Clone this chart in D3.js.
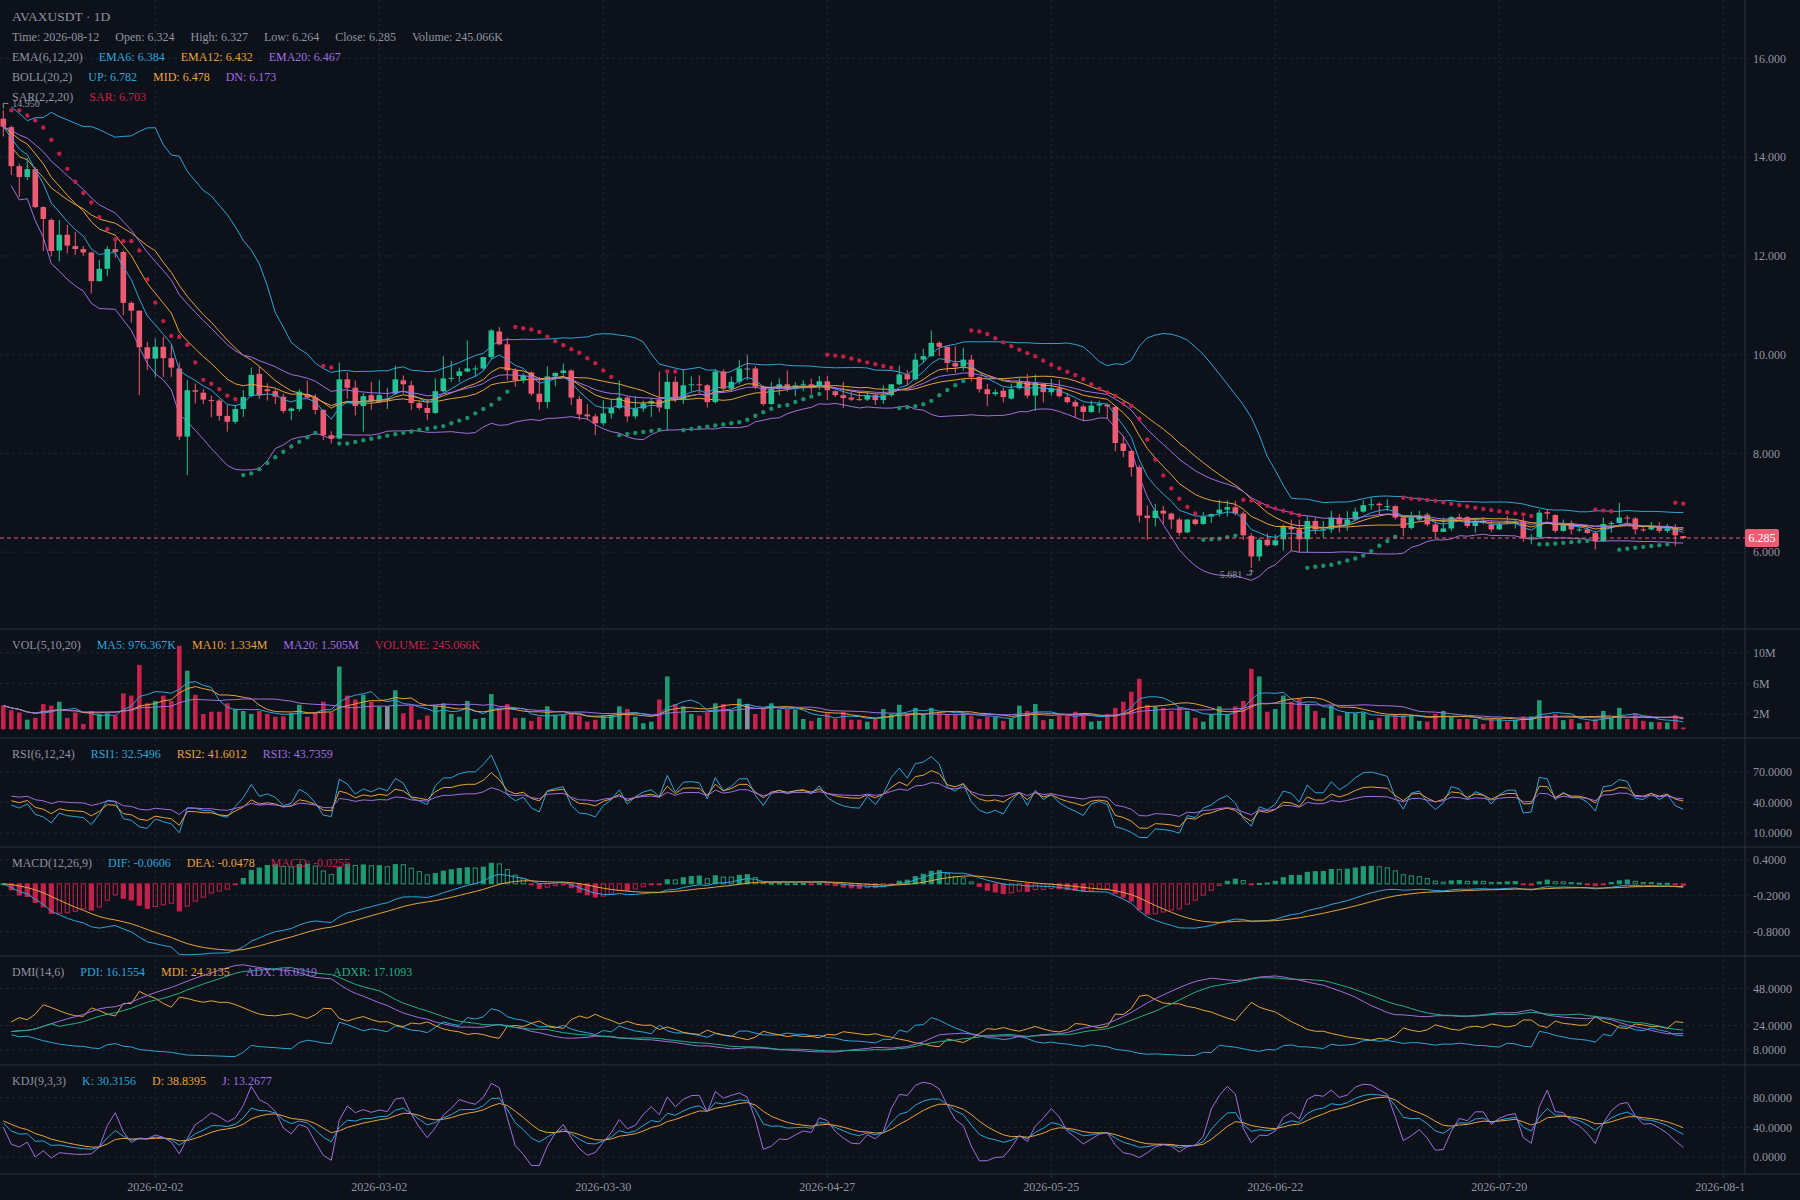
<!DOCTYPE html>
<html>
<head>
<meta charset="utf-8">
<script src="https://cdn.jsdelivr.net/npm/d3@7"></script>
<style>
html, body { margin: 0; padding: 0; background: #0d111a; }
svg { display: block; font-family: "Liberation Serif", serif; }
</style>
</head>
<body>
<script>
// daily candles, AVAXUSDT, first bar 2026-01-14
const firstDay = "2026-01-14";

const opens = [
14.78,14.61,13.82,13.60,13.76,12.99,12.73,12.11,12.43,12.20,
12.14,12.07,11.49,11.74,12.14,12.08,11.05,10.89,10.15,9.92,
10.16,9.93,9.72,8.34,9.28,9.23,9.08,9.07,8.76,8.64,
8.90,9.16,9.61,9.30,9.26,9.15,8.86,8.90,9.20,9.13,
8.88,8.37,8.30,9.50,9.33,8.96,9.18,9.04,9.11,9.21,
9.48,9.38,9.02,8.92,8.82,9.26,9.52,9.57,9.66,9.71,
9.72,9.95,10.47,10.21,9.68,9.48,9.64,9.21,9.04,9.56,
9.63,9.68,9.10,8.79,8.75,8.61,8.81,8.92,9.13,8.75,
8.91,9.01,9.09,8.90,9.45,9.08,9.38,9.40,9.38,9.04,
9.66,9.31,9.45,9.72,9.72,9.35,9.00,9.31,9.40,9.31,
9.38,9.40,9.36,9.46,9.26,9.18,9.13,9.10,9.09,9.18,
9.08,9.18,9.40,9.60,9.50,9.90,9.97,10.24,10.16,9.83,
9.76,9.90,9.55,9.30,9.20,9.27,9.11,9.32,9.46,9.17,
9.41,9.24,9.32,9.14,9.04,8.95,8.84,8.97,8.99,8.94,
8.20,8.05,7.72,6.74,6.69,6.84,6.78,6.66,6.40,6.66,
6.57,6.72,6.79,6.86,6.91,6.78,6.33,5.91,6.25,6.14,
6.26,6.51,6.46,6.26,6.63,6.44,6.46,6.70,6.56,6.66,
6.82,6.96,6.98,6.92,6.93,6.70,6.49,6.66,6.76,6.56,
6.41,6.48,6.71,6.71,6.53,6.63,6.56,6.46,6.63,6.60,
6.63,6.28,6.30,6.81,6.75,6.43,6.59,6.44,6.46,6.39,
6.22,6.57,6.59,6.70,6.68,6.46,6.46,6.49,6.43,6.49,
6.324];
const highs = [
14.95,14.64,13.87,13.98,13.80,13.01,12.76,12.73,12.63,12.49,
12.20,12.09,11.92,12.20,12.30,12.11,11.08,10.90,10.26,10.33,
10.36,10.20,9.84,9.49,9.41,9.30,9.17,9.10,8.98,8.98,
9.28,9.74,9.77,9.42,9.31,9.21,8.93,9.30,9.47,9.20,
8.90,8.45,9.84,9.64,9.48,9.22,9.45,9.48,9.33,9.78,
9.58,9.47,9.06,9.11,9.52,9.97,9.87,9.74,10.29,9.78,
9.96,10.52,10.56,10.34,9.73,9.62,9.66,9.55,9.76,9.64,
9.82,9.70,9.16,9.00,8.80,9.08,9.10,9.48,9.16,9.16,
9.07,9.12,9.66,9.63,9.56,9.70,9.56,9.58,9.41,9.70,
9.70,9.56,9.89,10.00,9.77,9.38,9.45,9.52,9.68,9.44,
9.48,9.51,9.57,9.57,9.28,9.45,9.25,9.27,9.25,9.21,
9.38,9.41,9.78,9.69,10.03,10.12,10.49,10.27,10.17,10.17,
10.14,10.00,9.56,9.41,9.30,9.33,9.41,9.53,9.61,9.60,
9.43,9.51,9.49,9.22,9.09,8.99,9.07,9.07,9.01,8.96,
8.36,8.07,7.77,6.94,6.98,6.93,6.80,6.70,6.67,6.68,
6.81,6.78,7.06,7.05,7.04,6.83,6.38,6.29,6.38,6.36,
6.56,6.66,6.66,6.73,6.70,6.63,6.84,6.77,6.83,6.90,
7.05,7.10,7.01,7.07,6.95,6.75,6.82,6.84,6.80,6.63,
6.70,6.73,6.78,6.73,6.70,6.71,6.64,6.61,6.73,6.66,
6.71,6.36,6.86,6.86,6.77,6.66,6.64,6.53,6.51,6.42,
6.70,6.63,7.00,6.75,6.71,6.51,6.61,6.61,6.57,6.57,
6.327];
const lows = [
14.42,13.64,13.20,13.54,12.97,12.10,11.99,11.89,12.05,12.02,
12.00,11.24,11.48,11.59,11.96,10.80,10.65,9.18,9.69,9.54,
9.55,9.55,8.27,7.56,9.01,9.00,8.73,8.66,8.44,8.60,
8.74,9.14,9.10,9.07,9.00,8.81,8.68,8.85,9.10,8.79,
8.27,8.20,8.28,9.11,8.77,8.44,8.88,9.02,8.90,9.18,
9.21,8.88,8.88,8.67,8.80,9.24,9.45,9.45,9.64,9.55,
9.69,9.90,10.19,9.48,9.35,9.42,9.16,8.88,8.91,9.36,
9.55,8.98,8.67,8.67,8.37,8.56,8.70,8.89,8.64,8.70,
8.84,8.74,8.84,8.47,9.04,9.00,9.25,9.22,8.93,9.01,
9.25,9.25,9.40,9.48,9.30,8.96,8.98,9.18,9.25,9.16,
9.26,9.21,9.29,9.08,9.14,8.92,9.06,9.06,9.06,8.98,
9.00,9.15,9.38,9.38,9.48,9.83,9.96,9.97,9.65,9.63,
9.68,9.46,9.23,8.96,9.16,9.03,9.09,9.29,9.11,8.86,
9.03,9.17,9.13,9.01,8.72,8.66,8.82,8.82,8.70,8.04,
7.92,7.53,6.60,6.25,6.52,6.57,6.47,6.33,6.38,6.54,
6.55,6.59,6.72,6.72,6.74,6.25,5.681,5.82,6.11,6.12,
6.03,6.02,5.99,5.99,6.36,6.29,6.39,6.40,6.43,6.63,
6.80,6.86,6.76,6.83,6.66,6.32,6.46,6.63,6.52,6.28,
6.41,6.43,6.63,6.49,6.39,6.56,6.41,6.45,6.56,6.48,
6.21,6.16,6.28,6.66,6.39,6.41,6.36,6.41,6.37,6.05,
6.21,6.39,6.58,6.56,6.36,6.41,6.44,6.39,6.39,6.12,
6.264];
const closes = [
14.62,13.82,13.60,13.76,12.99,12.75,12.10,12.43,12.21,12.14,
12.07,11.49,11.74,12.14,12.08,11.05,10.89,10.15,9.92,10.16,
9.93,9.74,8.34,9.28,9.25,9.09,9.07,8.76,8.64,8.90,
9.14,9.59,9.18,9.26,9.15,8.86,8.91,9.25,9.13,8.88,
8.37,8.30,9.50,9.33,8.96,9.16,9.06,9.18,9.11,9.50,
9.40,9.02,8.92,8.82,9.26,9.52,9.53,9.66,9.72,9.72,
9.95,10.49,10.21,9.68,9.48,9.57,9.21,9.04,9.56,9.63,
9.68,9.13,8.79,8.75,8.61,8.81,8.92,9.13,8.75,8.91,
9.01,9.06,8.93,9.45,9.08,9.38,9.40,9.38,9.04,9.66,
9.31,9.45,9.72,9.72,9.35,9.00,9.31,9.40,9.31,9.38,
9.40,9.33,9.46,9.28,9.18,9.12,9.09,9.08,9.18,9.08,
9.18,9.40,9.60,9.50,9.90,9.97,10.24,10.16,9.83,9.76,
9.90,9.55,9.30,9.20,9.24,9.14,9.30,9.44,9.17,9.43,
9.24,9.32,9.16,9.04,8.95,8.84,8.97,9.00,8.95,8.21,
8.05,7.72,6.74,6.69,6.84,6.78,6.66,6.39,6.66,6.57,
6.72,6.77,6.86,6.91,6.78,6.34,5.91,6.25,6.14,6.24,
6.51,6.46,6.26,6.63,6.46,6.46,6.70,6.56,6.66,6.82,
6.95,6.97,6.95,6.93,6.70,6.49,6.70,6.73,6.56,6.41,
6.48,6.71,6.68,6.53,6.63,6.59,6.46,6.56,6.61,6.61,
6.29,6.30,6.80,6.78,6.43,6.56,6.46,6.46,6.39,6.22,
6.57,6.59,6.70,6.68,6.46,6.44,6.51,6.43,6.48,6.34,
6.285];
// volume in millions
const volumesM = [
3.1,2.5,2.2,1.26,1.5,3.3,3.1,3.6,1.5,2.2,
0.7,2.4,2.0,2.1,1.8,4.7,4.4,8.4,3.4,3.7,
4.4,3.7,10.9,7.65,4.5,2.0,2.3,2.3,3.4,2.7,
2.4,2.0,2.4,2.0,1.65,1.7,2.1,3.2,1.65,2.2,
3.6,2.2,8.2,4.4,3.9,4.5,3.6,3.0,3.0,5.1,
2.1,3.1,1.26,1.8,3.1,3.4,2.0,1.65,3.7,1.35,
1.5,4.6,2.7,3.3,1.5,1.5,1.1,1.65,3.0,1.9,
1.9,2.0,1.8,1.0,1.26,1.8,1.9,3.0,2.65,1.65,
0.8,1.0,3.9,6.9,3.3,3.0,2.0,1.8,2.2,3.4,
3.3,2.4,4.0,3.3,2.0,2.65,3.4,2.6,2.6,2.6,
1.35,1.1,1.5,2.1,1.4,2.3,1.26,1.26,1.0,1.35,
2.65,2.0,3.2,2.1,2.8,2.0,2.8,2.1,2.0,1.9,
2.1,1.8,1.35,1.65,1.6,1.1,1.4,3.1,2.4,3.3,
1.2,1.35,1.8,1.8,2.3,2.1,1.0,1.1,2.0,2.8,
3.6,4.9,6.6,3.2,3.0,2.8,2.4,2.9,2.4,1.5,
1.0,2.0,3.0,2.0,3.0,3.7,7.9,6.9,2.3,2.65,
4.4,3.6,4.0,3.3,2.4,1.5,3.1,1.8,2.2,2.1,
2.2,1.2,1.5,1.8,1.9,1.9,1.9,1.1,1.0,2.0,
2.4,1.6,1.35,1.35,1.35,0.7,1.35,1.35,1.0,1.2,
1.7,1.7,3.8,1.8,2.0,1.2,1.35,0.8,1.0,1.35,
2.4,1.5,2.8,1.35,2.1,1.1,0.95,0.95,0.9,1.85,
0.245066];

const dateTicks = ["2026-02-02","2026-03-02","2026-03-30","2026-04-27","2026-05-25","2026-06-22","2026-07-20","2026-08-17"];
const priceTicks = [16, 14, 12, 10, 8, 6];
const volTicks = [10, 6, 2];
const rsiTicks = [70, 40, 10];
const macdTicks = [0.4, -0.2, -0.8];
const dmiTicks = [48, 24, 8];
const kdjTicks = [80, 40, 0];

const grey = "#8e95a1", cyan = "#2ba6dc", orange = "#e9a23b", purple = "#a06fe2",
      crimson = "#c7234a", teal = "#22b087";
const upCol = "#25c295", downCol = "#ef5b73", dojiCol = "#8a909c";
const volUp = "#209a72", volDown = "#c3224a";

// legend texts as shown on the chart
const titleText = "AVAXUSDT · 1D";
const infoRow = [["Time: 2026-08-12", grey], ["Open: 6.324", grey], ["High: 6.327", grey], ["Low: 6.264", grey], ["Close: 6.285", grey], ["Volume: 245.066K", grey]];
const emaRow = [["EMA(6,12,20)", grey], ["EMA6: 6.384", cyan], ["EMA12: 6.432", orange], ["EMA20: 6.467", purple]];
const bollRow = [["BOLL(20,2)", grey], ["UP: 6.782", cyan], ["MID: 6.478", orange], ["DN: 6.173", purple]];
const sarRow = [["SAR(2,2,20)", grey], ["SAR: 6.703", crimson]];
const volRow = [["VOL(5,10,20)", grey], ["MA5: 976.367K", cyan], ["MA10: 1.334M", orange], ["MA20: 1.505M", purple], ["VOLUME: 245.066K", crimson]];
const rsiRow = [["RSI(6,12,24)", grey], ["RSI1: 32.5496", cyan], ["RSI2: 41.6012", orange], ["RSI3: 43.7359", purple]];
const macdRow = [["MACD(12,26,9)", grey], ["DIF: -0.0606", cyan], ["DEA: -0.0478", orange], ["MACD: -0.0255", crimson]];
const dmiRow = [["DMI(14,6)", grey], ["PDI: 16.1554", cyan], ["MDI: 24.3135", orange], ["ADX: 16.0319", purple], ["ADXR: 17.1093", teal]];
const kdjRow = [["KDJ(9,3,3)", grey], ["K: 30.3156", cyan], ["D: 38.8395", orange], ["J: 13.2677", purple]];

const W = 1800, H = 1200, axisX = 1745;
const paneTops = [0, 629, 738, 847, 956, 1065, 1174];

const parse = d3.utcParse("%Y-%m-%d");
const day0 = parse(firstDay);
const dates = closes.map((c, i) => d3.utcDay.offset(day0, i));
const N = closes.length;
const idx = d3.range(N);

// ---------- indicators ----------
function ema(arr, n) { let p; return arr.map((v, i) => (p = i === 0 ? v : (2 * v + (n - 1) * p) / (n + 1))); }
function ma(arr, n) { return arr.map((v, i) => d3.mean(arr.slice(Math.max(0, i - n + 1), i + 1))); }

const ema6 = ema(closes, 6), ema12 = ema(closes, 12), ema20 = ema(closes, 20);
const bollMid = [], bollUp = [], bollDn = [];
closes.forEach((c, i) => {
	const w = closes.slice(Math.max(0, i - 19), i + 1);
	const m = d3.mean(w);
	const sd = Math.sqrt(d3.mean(w, v => (v - m) * (v - m)));
	bollMid.push(m); bollUp.push(m + 2 * sd); bollDn.push(m - 2 * sd);
});

// parabolic SAR (2,2,20)
const sar = [null];
(function () {
	let up = false, af = 0.02, ep = lows[0], s = highs[0];
	for (let i = 1; i < N; i++) {
		s = s + af * (ep - s);
		if (up) {
			s = Math.min(s, lows[i - 1], lows[Math.max(0, i - 2)]);
			if (lows[i] < s) { up = false; s = ep; ep = lows[i]; af = 0.02; }
			else if (highs[i] > ep) { ep = highs[i]; af = Math.min(af + 0.02, 0.2); }
		} else {
			s = Math.max(s, highs[i - 1], highs[Math.max(0, i - 2)]);
			if (highs[i] > s) { up = true; s = ep; ep = highs[i]; af = 0.02; }
			else if (lows[i] < ep) { ep = lows[i]; af = Math.min(af + 0.02, 0.2); }
		}
		sar.push({ v: s, up: up });
	}
})();

const volMa5 = ma(volumesM, 5), volMa10 = ma(volumesM, 10), volMa20 = ma(volumesM, 20);

// wilder-style RSI, averages start neutral
const absChg = closes.slice(1).map((c, i) => Math.abs(c - closes[i]));
function rsi(n) {
	let a = d3.mean(absChg.slice(0, n)), u = a / 2;
	return closes.map((c, i) => {
		if (i === 0) return null;
		const d = c - closes[i - 1];
		u = (Math.max(d, 0) + (n - 1) * u) / n;
		a = (Math.abs(d) + (n - 1) * a) / n;
		return a === 0 ? 50 : u / a * 100;
	});
}
const rsi1 = rsi(6), rsi2 = rsi(12), rsi3 = rsi(24);

const e12 = ema(closes, 12), e26 = ema(closes, 26);
const dif = e12.map((v, i) => v - e26[i]);
const dea = ema(dif, 9);
const macdBar = dif.map((v, i) => (v - dea[i]) * 2);

// DMI(14,6), wilder smoothing, sums start neutral
const trA = [null], dpA = [null], dmA = [null];
for (let i = 1; i < N; i++) {
	const pc = closes[i - 1];
	trA.push(Math.max(highs[i] - lows[i], Math.abs(highs[i] - pc), Math.abs(lows[i] - pc)));
	const hd = highs[i] - highs[i - 1], ld = lows[i - 1] - lows[i];
	dpA.push(hd > 0 && hd > ld ? hd : 0);
	dmA.push(ld > 0 && ld > hd ? ld : 0);
}
const pdi = [null], mdi = [null], adx = [null], adxr = [null];
(function () {
	let mtr = d3.mean(trA.slice(1, 15)), mdp = mtr * 0.2, mdm = mtr * 0.2, ax = 20;
	for (let i = 1; i < N; i++) {
		mtr += (trA[i] - mtr) / 14; mdp += (dpA[i] - mdp) / 14; mdm += (dmA[i] - mdm) / 14;
		const p = mdp * 100 / mtr, m = mdm * 100 / mtr;
		const dx = p + m === 0 ? 0 : Math.abs(m - p) / (m + p) * 100;
		ax += (dx - ax) / 14;
		pdi.push(p); mdi.push(m); adx.push(ax);
		adxr.push(i > 6 ? (ax + adx[i - 6]) / 2 : ax);
	}
})();

const kA = [], dA = [], jA = [];
(function () {
	let k = 50, d = 50;
	idx.forEach(i => {
		const s = Math.max(0, i - 8);
		const lo = d3.min(lows.slice(s, i + 1)), hi = d3.max(highs.slice(s, i + 1));
		const rsv = hi === lo ? 0 : (closes[i] - lo) / (hi - lo) * 100;
		k = (2 * k + rsv) / 3; d = (2 * d + k) / 3;
		kA.push(k); dA.push(d); jA.push(3 * k - 2 * d);
	});
})();

// ---------- scales ----------
const x = d3.scaleUtc().domain([day0, parse("2026-08-17")]).range([3.3, 1723.3]);
const yPrice = d3.scaleLinear().domain([4.442, 17.186]).range([paneTops[1], paneTops[0]]);
const yVol = d3.scaleLinear().domain([-1.13, 13.09]).range([paneTops[2], paneTops[1]]);
const yRsi = d3.scaleLinear().domain([-3.67, 103.1]).range([paneTops[3], paneTops[2]]);
const yMacd = d3.scaleLinear().domain([-1.208, 0.616]).range([paneTops[4], paneTops[3]]);
const yDmi = d3.scaleLinear().domain([-1.84, 69.2]).range([paneTops[5], paneTops[4]]);
const yKdj = d3.scaleLinear().domain([-22.7, 124]).range([paneTops[6], paneTops[5]]);

const svg = d3.select("body").append("svg").attr("width", W).attr("height", H);
svg.append("rect").attr("width", W).attr("height", H).attr("fill", "#0d111a");

const defs = svg.append("defs");
paneTops.slice(0, 6).forEach((t, k) => {
	defs.append("clipPath").attr("id", "clip" + k).append("rect")
		.attr("x", 0).attr("y", t).attr("width", axisX).attr("height", paneTops[k + 1] - t);
});
defs.append("clipPath").attr("id", "clipAxis").append("rect").attr("x", 0).attr("y", 1174).attr("width", axisX).attr("height", 26);

// grid
const grid = svg.append("g").attr("stroke", "#1e2633").attr("stroke-dasharray", "3,3").attr("stroke-width", 1);
grid.selectAll("line.v").data(dateTicks).join("line")
	.attr("x1", d => x(parse(d))).attr("x2", d => x(parse(d)))
	.attr("y1", 0).attr("y2", 1174);

function hGrid(scale, ticks, fmt) {
	grid.selectAll(null).data(ticks).join("line")
		.attr("x1", 0).attr("x2", axisX + 4)
		.attr("y1", d => scale(d)).attr("y2", d => scale(d));
	svg.append("g").selectAll("text").data(ticks).join("text")
		.attr("x", 1753).attr("y", d => scale(d)).attr("dy", "0.35em")
		.attr("fill", grey).attr("font-size", 12).text(fmt);
}
hGrid(yPrice, priceTicks, d => d.toFixed(3));
hGrid(yVol, volTicks, d => d + "M");
hGrid(yRsi, rsiTicks, d => d.toFixed(4));
hGrid(yMacd, macdTicks, d => d.toFixed(4));
hGrid(yDmi, dmiTicks, d => d.toFixed(4));
hGrid(yKdj, kdjTicks, d => d.toFixed(4));

// pane separators and axis line
svg.append("g").attr("stroke", "#283040").attr("stroke-width", 1)
	.selectAll("line").data(paneTops.slice(1)).join("line")
	.attr("x1", 0).attr("x2", W).attr("y1", d => d).attr("y2", d => d);
svg.append("line").attr("x1", axisX).attr("x2", axisX).attr("y1", 0).attr("y2", 1174)
	.attr("stroke", "#283040");

// x axis labels
const xa = svg.append("g").attr("clip-path", "url(#clipAxis)");
xa.selectAll("line").data(dateTicks).join("line")
	.attr("x1", d => x(parse(d))).attr("x2", d => x(parse(d)))
	.attr("y1", 1174).attr("y2", 1178).attr("stroke", "#283040");
xa.selectAll("text").data(dateTicks).join("text")
	.attr("x", d => x(parse(d))).attr("y", 1191).attr("text-anchor", "middle")
	.attr("fill", grey).attr("font-size", 12).text(d => d);

const X = i => x(dates[i]);
function drawLine(g, arr, scale, color) {
	g.append("path").datum(arr)
		.attr("fill", "none").attr("stroke", color).attr("stroke-width", 1)
		.attr("d", d3.line().defined(v => v != null).x((v, i) => X(i)).y(v => scale(v)));
}

// ---------- main pane ----------
const main = svg.append("g").attr("clip-path", "url(#clip0)");
const candleCol = i => closes[i] > opens[i] ? upCol : closes[i] < opens[i] ? downCol : dojiCol;

[[bollUp, cyan], [bollMid, orange], [bollDn, purple]].forEach(([a, c]) => drawLine(main, a.map((v, i) => i === 0 ? null : v), yPrice, c));

main.selectAll("line.wick").data(idx).join("line").attr("class", "wick")
	.attr("x1", X).attr("x2", X)
	.attr("y1", i => yPrice(highs[i])).attr("y2", i => yPrice(lows[i]))
	.attr("stroke", candleCol).attr("stroke-width", 1);
main.selectAll("rect.body").data(idx).join("rect").attr("class", "body")
	.attr("x", i => X(i) - 2.8).attr("width", 5.6)
	.attr("y", i => yPrice(Math.max(opens[i], closes[i])))
	.attr("height", i => Math.max(1, Math.abs(yPrice(opens[i]) - yPrice(closes[i]))))
	.attr("fill", candleCol);

[[ema6, cyan], [ema12, orange], [ema20, purple]].forEach(([a, c]) => drawLine(main, a, yPrice, c));

main.selectAll("circle.sar").data(idx.slice(1)).join("circle").attr("class", "sar")
	.attr("cx", X).attr("cy", i => yPrice(sar[i].v)).attr("r", 2.2)
	.attr("fill", i => sar[i].up ? "#1d8c68" : "#c11f47");

// last price line
const lastY = yPrice(closes[N - 1]);
svg.append("line").attr("x1", 0).attr("x2", axisX).attr("y1", lastY).attr("y2", lastY)
	.attr("stroke", downCol).attr("stroke-dasharray", "4,3").attr("stroke-width", 1);
svg.append("rect").attr("x", axisX).attr("y", lastY - 9).attr("width", 34).attr("height", 18)
	.attr("rx", 2).attr("fill", downCol);
svg.append("text").attr("x", axisX + 17).attr("y", lastY).attr("dy", "0.35em").attr("text-anchor", "middle")
	.attr("fill", "#ffffff").attr("font-size", 12).text(closes[N - 1].toFixed(3));

// high / low marks
const hiI = d3.maxIndex(highs), loI = d3.minIndex(lows);
const marks = svg.append("g").attr("fill", "none").attr("stroke", grey).attr("stroke-width", 1);
const hx = X(hiI), hy = yPrice(highs[hiI]);
marks.append("path").attr("d", `M${hx},${hy - 2}V${hy - 7}H${hx + 5}`);
svg.append("text").attr("x", hx + 9).attr("y", hy - 7).attr("dy", "0.35em")
	.attr("fill", grey).attr("font-size", 10).text(highs[hiI].toFixed(3));
const lx = X(loI), ly = yPrice(lows[loI]);
marks.append("path").attr("d", `M${lx},${ly + 2}V${ly + 7}H${lx - 5}M${lx - 2},${ly + 4}L${lx},${ly + 2}L${lx + 2},${ly + 4}`);
svg.append("text").attr("x", lx - 9).attr("y", ly + 7).attr("dy", "0.35em").attr("text-anchor", "end")
	.attr("fill", grey).attr("font-size", 10).text(lows[loI].toFixed(3));

// ---------- volume pane ----------
const vg = svg.append("g").attr("clip-path", "url(#clip1)");
vg.selectAll("rect").data(idx).join("rect")
	.attr("x", i => X(i) - 2.3).attr("width", 4.6)
	.attr("y", i => yVol(volumesM[i])).attr("height", i => yVol(0) - yVol(volumesM[i]))
	.attr("fill", i => closes[i] > opens[i] ? volUp : closes[i] < opens[i] ? volDown : dojiCol);
[[volMa5, cyan], [volMa10, orange], [volMa20, purple]].forEach(([a, c]) => drawLine(vg, a, yVol, c));

// ---------- RSI ----------
const rg = svg.append("g").attr("clip-path", "url(#clip2)");
[[rsi1, cyan], [rsi2, orange], [rsi3, purple]].forEach(([a, c]) => drawLine(rg, a, yRsi, c));

// ---------- MACD ----------
const mg = svg.append("g").attr("clip-path", "url(#clip3)");
mg.selectAll("rect").data(idx).join("rect")
	.attr("x", i => X(i) - 2.1).attr("width", 4.2)
	.attr("y", i => Math.min(yMacd(0), yMacd(macdBar[i])))
	.attr("height", i => Math.max(1, Math.abs(yMacd(macdBar[i]) - yMacd(0))))
	.attr("fill", i => {
		const v = macdBar[i], p = i > 0 ? macdBar[i - 1] : 0;
		if (v >= 0) return v >= p ? volUp : "none";
		return v <= p ? volDown : "none";
	})
	.attr("stroke", i => macdBar[i] >= 0 ? volUp : volDown)
	.attr("stroke-width", 1);
[[dif, cyan], [dea, orange]].forEach(([a, c]) => drawLine(mg, a, yMacd, c));

// ---------- DMI ----------
const dg = svg.append("g").attr("clip-path", "url(#clip4)");
[[pdi, cyan], [mdi, orange], [adx, purple], [adxr, teal]].forEach(([a, c]) => drawLine(dg, a, yDmi, c));

// ---------- KDJ ----------
const kg = svg.append("g").attr("clip-path", "url(#clip5)");
[[kA, cyan], [dA, orange], [jA, purple]].forEach(([a, c]) => drawLine(kg, a, yKdj, c));

// ---------- legends ----------
function legend(items, x0, yb, size) {
	let xx = x0;
	items.forEach(([t, col]) => {
		const el = svg.append("text").attr("x", xx).attr("y", yb).attr("fill", col).attr("font-size", size).text(t);
		xx += el.node().getComputedTextLength() + 16;
	});
}
svg.append("text").attr("x", 12).attr("y", 20.5).attr("fill", grey).attr("font-size", 13.5).text(titleText);
legend(infoRow, 12, 40.5, 12);
legend(emaRow, 12, 60.5, 12);
legend(bollRow, 12, 81, 12);
legend(sarRow, 12, 100.5, 12);
legend(volRow, 12, paneTops[1] + 19.5, 12);
legend(rsiRow, 12, paneTops[2] + 19.5, 12);
legend(macdRow, 12, paneTops[3] + 19.5, 12);
legend(dmiRow, 12, paneTops[4] + 19.5, 12);
legend(kdjRow, 12, paneTops[5] + 19.5, 12);
</script>
</body>
</html>
